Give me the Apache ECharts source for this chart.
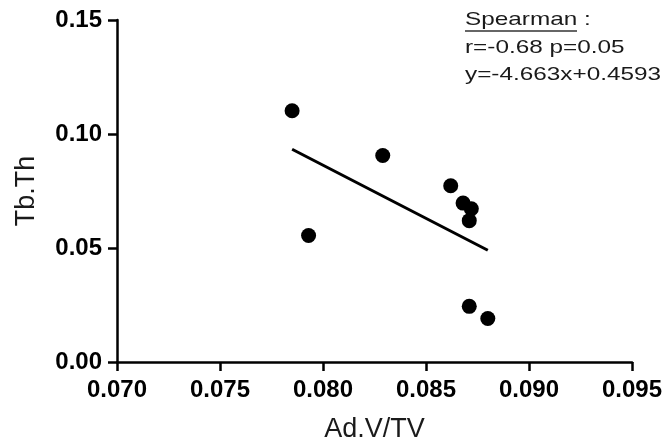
<!DOCTYPE html>
<html><head><meta charset="utf-8">
<script src="https://cdn.jsdelivr.net/npm/echarts@6/dist/echarts.min.js"></script>
<style>html,body{margin:0;padding:0;background:#fff}#c{width:665px;height:444px}</style>
</head><body><div id="c"></div>
<script>
// Data
const xValues = [0.0785, 0.0829, 0.0862, 0.0868, 0.0872, 0.0871, 0.0793, 0.0871, 0.0880];
const yValues = [0.1102, 0.0906, 0.0773, 0.0697, 0.0672, 0.0620, 0.0555, 0.0244, 0.0191];
const fitX = [0.0785, 0.0880];
const fitY = [0.0933, 0.0490];
const xAxisName = 'Ad.V/TV';
const yAxisName = 'Tb.Th';
const statLines = ['Spearman :', 'r=-0.68 p=0.05', 'y=-4.663x+0.4593'];

const FONT = '"Liberation Sans", Arial, sans-serif';
const points = xValues.map((x, i) => [x, yValues[i]]);
const fitLine = fitX.map((x, i) => [x, fitY[i]]);

const chart = echarts.init(document.getElementById('c'), null, {renderer: 'canvas'});
const axisCommon = {
  axisLine: {show: true, lineStyle: {color: '#000', width: 2.5}},
  axisTick: {show: true, inside: false, length: 9, lineStyle: {color: '#000', width: 2.5}},
  splitLine: {show: false},
  nameLocation: 'middle',
  nameTextStyle: {fontFamily: FONT, fontSize: 27, color: '#1a1a1a'}
};
chart.setOption({
  animation: false,
  backgroundColor: '#fff',
  grid: {left: 117, right: 33, top: 20, bottom: 82, containLabel: false, outerBoundsMode: 'none'},
  xAxis: Object.assign({}, axisCommon, {
    type: 'value', min: 0.070, max: 0.095, interval: 0.005,
    name: xAxisName, nameGap: 54,
    axisLabel: {margin: 16, fontFamily: FONT, fontSize: 24, fontWeight: 'bold', color: '#000',
      formatter: v => v.toFixed(3)}
  }),
  yAxis: Object.assign({}, axisCommon, {
    type: 'value', min: 0, max: 0.15, interval: 0.05,
    name: yAxisName, nameGap: 77,
    axisLabel: {margin: 15, fontFamily: FONT, fontSize: 24, fontWeight: 'bold', color: '#000',
      formatter: v => v.toFixed(2)}
  }),
  series: [
    {type: 'line', data: fitLine, symbol: 'none', lineStyle: {color: '#000', width: 3}, z: 2},
    {type: 'scatter', data: points, symbol: 'circle', symbolSize: 15, itemStyle: {color: '#000', opacity: 1}, z: 3}
  ],
  graphic: [
    {type: 'text', x: 465, y: 20, scaleX: 1.28, style: {text: statLines[0], x: 0, y: 0, font: '19px ' + FONT, fill: '#1a1a1a', align: 'left', verticalAlign: 'middle'}},
    {type: 'text', x: 465, y: 47.7, scaleX: 1.28, style: {text: statLines[1], x: 0, y: 0, font: '19px ' + FONT, fill: '#1a1a1a', align: 'left', verticalAlign: 'middle'}},
    {type: 'text', x: 465, y: 74.3, scaleX: 1.28, style: {text: statLines[2], x: 0, y: 0, font: '19px ' + FONT, fill: '#1a1a1a', align: 'left', verticalAlign: 'middle'}},
    {type: 'line', shape: {x1: 465, y1: 31, x2: 577, y2: 31}, style: {stroke: '#333', lineWidth: 1.3}}
  ]
});
</script></body></html>
